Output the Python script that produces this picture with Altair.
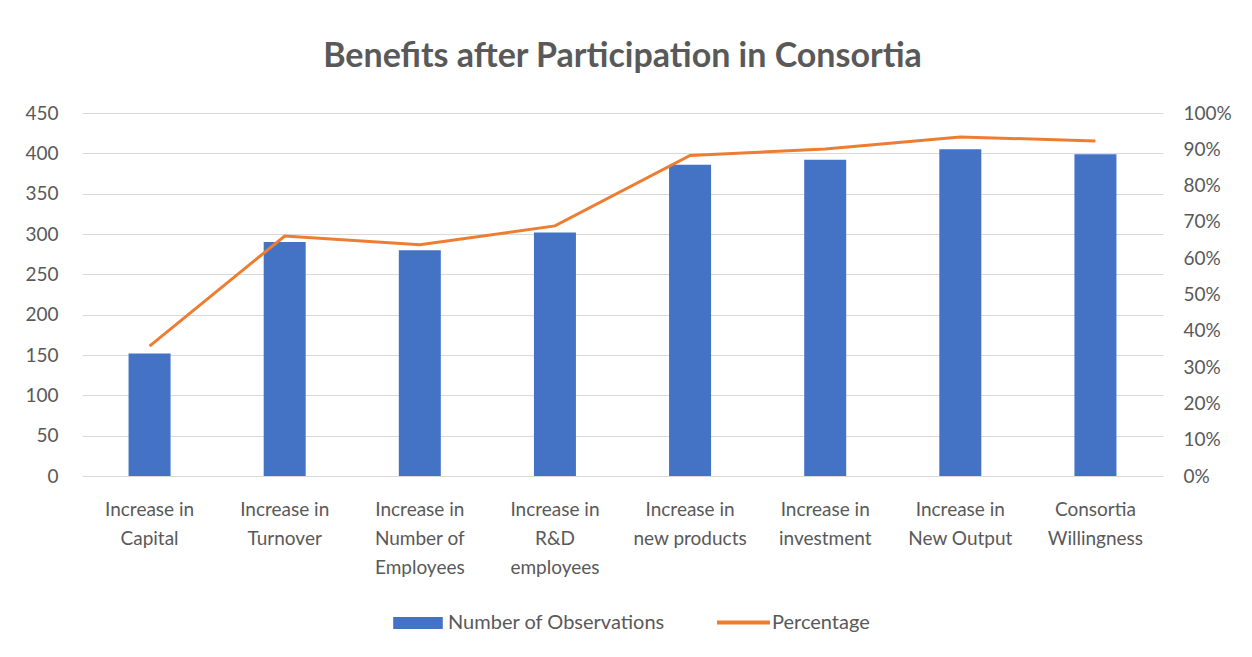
import altair as alt
import pandas as pd

categories = [
    "Increase in\nCapital",
    "Increase in\nTurnover",
    "Increase in\nNumber of\nEmployees",
    "Increase in\nR&D\nemployees",
    "Increase in\nnew products",
    "Increase in\ninvestment",
    "Increase in\nNew Output",
    "Consortia\nWillingness",
]
observations = [152, 290, 280, 302, 386, 392, 405, 399]
percentage = [0.358, 0.661, 0.637, 0.689, 0.883, 0.901, 0.934, 0.923]
left_ticks = [0, 50, 100, 150, 200, 250, 300, 350, 400, 450]
right_ticks = [0, 0.1, 0.2, 0.3, 0.4, 0.5, 0.6, 0.7, 0.8, 0.9, 1.0]

bar_series = "Number of Observations"
line_series = "Percentage"

df = pd.DataFrame({
    "category": categories,
    "observations": observations,
    "percentage": percentage,
    "bar_series": [bar_series] * len(categories),
    "line_series": [line_series] * len(categories),
})

FONT = "Lato"
TXT = "#595959"

x_enc = alt.X(
    "category:N",
    sort=categories,
    title=None,
    axis=alt.Axis(
        labelExpr="split(datum.label, '\\n')",
        labelAngle=0,
        labelFont=FONT,
        labelFontSize=19,
        labelColor=TXT,
        labelLineHeight=29,
        labelPadding=24,
        labelBaseline="top",
        domain=False,
        ticks=False,
        grid=False,
    ),
)

bars = alt.Chart(df).mark_bar(size=42).encode(
    x=x_enc,
    y=alt.Y(
        "observations:Q",
        title=None,
        scale=alt.Scale(domain=[0, 450], nice=False),
        axis=alt.Axis(
            values=left_ticks,
            labelFont=FONT,
            labelFontSize=19,
            labelColor=TXT,
            labelPadding=24,
            domain=False,
            ticks=False,
            grid=True,
            gridColor="#D9D9D9",
            gridWidth=1.2,
        ),
    ),
    color=alt.Color(
        "bar_series:N",
        scale=alt.Scale(domain=[bar_series], range=["#4472C4"]),
        legend=alt.Legend(
            title=None,
            orient="none",
            legendX=311,
            legendY=485,
            symbolType="M-1,-0.24H1V0.24H-1Z",
            symbolSize=2460,
            symbolStrokeWidth=0,
            labelFont=FONT,
            labelFontSize=20,
            labelColor=TXT,
            labelOffset=5,
            labelLimit=0,
        ),
    ),
)

line = alt.Chart(df).mark_line(strokeWidth=3).encode(
    x=x_enc,
    y=alt.Y(
        "percentage:Q",
        title=None,
        scale=alt.Scale(domain=[0, 1], nice=False),
        axis=alt.Axis(
            values=right_ticks,
            format=".0%",
            orient="right",
            labelFont=FONT,
            labelFontSize=19,
            labelColor=TXT,
            labelPadding=20,
            domain=False,
            ticks=False,
            grid=False,
        ),
    ),
    stroke=alt.Stroke(
        "line_series:N",
        scale=alt.Scale(domain=[line_series], range=["#ED7D31"]),
        legend=alt.Legend(
            title=None,
            orient="none",
            legendX=633,
            legendY=481,
            symbolType="stroke",
            symbolSize=2809,
            symbolStrokeWidth=4,
            labelFont=FONT,
            labelFontSize=20,
            labelColor=TXT,
            labelOffset=0,
            labelLimit=0,
        ),
    ),
)

chart = alt.layer(bars, line).resolve_scale(
    y="independent", color="independent", stroke="independent"
).properties(
    width=1081,
    height=363,
    autosize=alt.AutoSizeParams(type="none"),
    padding={"left": 74, "top": 105, "right": 81, "bottom": 173},
    background="white",
    title=alt.TitleParams(
        "Benefits after Participation in Consortia",
        font=FONT,
        fontSize=34,
        fontWeight="bold",
        color=TXT,
        anchor="middle",
        offset=30,
    ),
).configure_view(stroke=None)

chart.save("out.html", embed_options={"renderer": "svg", "actions": False})
